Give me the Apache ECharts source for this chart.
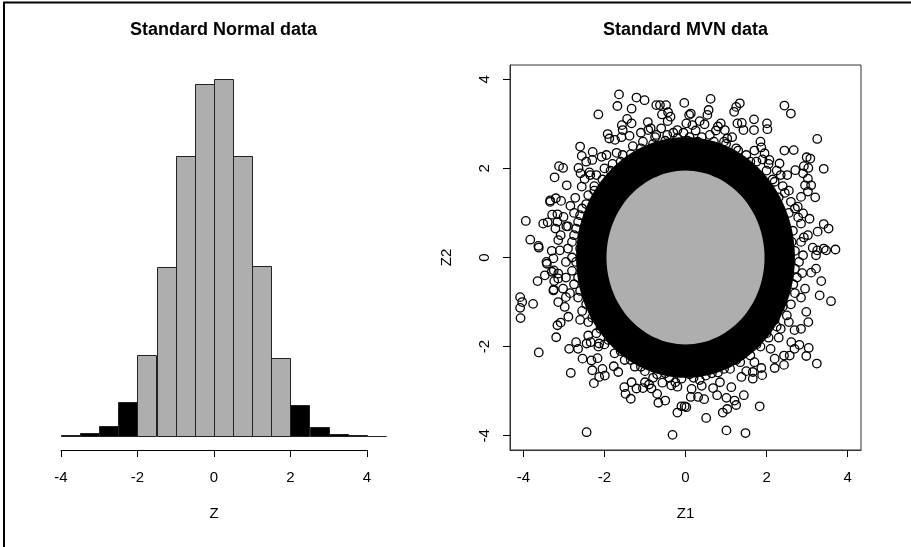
<!DOCTYPE html>
<html>
<head>
<meta charset="utf-8">
<script src="https://cdn.jsdelivr.net/npm/echarts@6/dist/echarts.min.js"></script>
<style>
  html, body { margin: 0; padding: 0; background: #fff; }
  #chart { width: 911px; height: 547px; }
</style>
</head>
<body>
<div id="chart"></div>
<script>
// histogram of Z: bin edges (width 0.5) and counts
const breaks = [-4, -3.5, -3, -2.5, -2, -1.5, -1, -0.5, 0, 0.5, 1, 1.5, 2, 2.5, 3, 3.5, 4, 4.5];
const counts = [2, 13, 55, 180, 432, 905, 1503, 1892, 1915, 1503, 914, 417, 165, 47, 7, 2, 1];
const tickLabels = [-4, -2, 0, 2, 4];

// MVN panel: inner grey disc / dense black band radii, then the visible circles
const innerRadius = 1.95;
const bandRadius = 2.7;
const outerPoints = [
  [-1.64, 3.66], [-1.68, 3.40], [-1.21, 3.59], [-1.01, 3.53], [-1.33, 3.34], [-2.15, 3.21],
  [-0.72, 3.42], [-0.63, 3.42], [-0.48, 3.42], [-0.03, 3.47], [-0.43, 3.26], [-0.58, 3.21],
  [-1.44, 3.11], [-1.33, 3.01], [-1.57, 2.97], [-1.55, 2.86], [-0.93, 3.04], [-0.86, 2.90],
  [-0.37, 3.16], [-0.44, 3.06], [-1.92, 2.77], [-1.88, 2.67], [-2.60, 2.49], [-2.56, 2.28],
  [-2.29, 2.37], [-2.45, 2.15], [-2.64, 2.01], [-3.12, 2.05], [-3.02, 2.01], [-3.23, 1.80],
  [-2.93, 1.62], [-3.34, 1.28], [-3.20, 1.33], [-3.07, 1.27], [-2.72, 1.34], [-3.94, 0.82],
  [-3.51, 0.76], [-3.40, 0.79], [-3.29, 0.96], [-3.16, 0.97], [-3.01, 0.91], [-2.94, 0.70],
  [-3.21, 0.65], [-3.83, 0.40], [-3.63, 0.26], [-3.14, 0.39], [-3.08, 0.50], [-2.84, 1.16],
  [-2.56, 1.59], [-2.49, 1.76], [-2.59, 1.89], [-2.37, 1.91], [-2.30, 2.19], [-2.07, 2.26],
  [-1.74, 2.64], [-1.58, 2.70], [-1.38, 2.73], [-1.10, 2.80], [-0.92, 2.86], [-0.72, 2.75],
  [-0.20, 2.86], [0.02, 3.01], [0.09, 3.20],
  [0.62, 3.56], [1.34, 3.46], [1.25, 3.38], [1.20, 3.27], [2.44, 3.41], [2.60, 3.23],
  [0.57, 3.31], [0.54, 3.20], [0.13, 3.23], [0.35, 3.06], [0.47, 2.99], [0.17, 2.97],
  [1.69, 3.10], [1.69, 2.86], [1.39, 3.02], [1.28, 3.01], [1.43, 2.86], [2.01, 3.01],
  [2.02, 2.88], [3.25, 2.66], [1.85, 2.60], [1.70, 2.40], [2.44, 2.40], [2.67, 2.41],
  [2.99, 2.25], [3.08, 2.22], [2.92, 2.05], [3.03, 2.01], [3.41, 1.99], [2.71, 1.96],
  [2.32, 2.11], [2.07, 2.19], [1.95, 2.34], [1.87, 2.47], [2.51, 1.85], [2.90, 1.89],
  [3.02, 1.77], [2.95, 1.62], [3.10, 1.62], [3.20, 1.35], [2.85, 1.36], [3.02, 1.48],
  [3.06, 0.87], [2.90, 0.99], [3.41, 0.75], [3.53, 0.65], [3.26, 0.58], [3.02, 0.50],
  [3.14, 0.22], [3.41, 0.20], [3.70, 0.18], [2.85, 0.76], [2.77, 1.14], [0.97, 2.86],
  [1.03, 2.67], [0.80, 2.94], [0.87, 3.01],
  [-3.62, 0.22], [-3.30, 0.15], [-3.10, 0.16], [-3.42, -0.14], [-3.26, -0.02], [-3.47, -0.40],
  [-3.30, -0.32], [-3.65, -0.53], [-3.24, -0.53], [-3.14, -0.47], [-4.08, -0.89], [-4.03, -1.00],
  [-4.08, -1.13], [-4.07, -1.36], [-3.76, -1.04], [-3.25, -0.72], [-3.14, -1.00], [-2.98, -1.11],
  [-2.95, -0.89], [-3.02, -0.70], [-2.89, -1.33], [-3.08, -1.46], [-3.16, -1.52], [-3.19, -1.79],
  [-3.62, -2.13], [-2.87, -2.05], [-2.65, -2.05], [-2.54, -2.27], [-2.83, -2.59], [-2.70, -1.90],
  [-2.44, -1.93], [-2.34, -1.90], [-2.13, -1.93], [-2.32, -2.31], [-2.17, -2.26], [-2.30, -2.53],
  [-2.05, -2.50], [-1.99, -2.65], [-2.13, -2.68], [-2.26, -2.82], [-2.44, -3.92], [-1.77, -2.44],
  [-1.66, -2.57], [-1.51, -2.91], [-1.35, -3.17], [-1.48, -3.06], [-1.21, -2.94], [-1.05, -2.93],
  [-0.84, -2.94], [-0.70, -3.06], [-0.67, -3.26], [-0.50, -3.21], [-0.57, -2.81], [-0.20, -3.48],
  [-0.10, -3.34], [-0.02, -3.34], [-0.32, -3.98], [-1.33, -2.80], [-1.00, -2.80], [-0.35, -2.87],
  [3.25, 0.16], [3.47, 0.16], [3.22, 0.05], [3.22, -0.25], [3.10, -0.34], [3.35, -0.53],
  [3.31, -0.85], [3.59, -0.98], [2.98, -1.22], [3.03, -1.45], [2.85, -1.60], [2.69, -1.63],
  [2.81, -1.96], [3.04, -2.03], [2.98, -2.21], [3.24, -2.38], [2.61, -1.90], [2.43, -2.41],
  [2.43, -2.20], [2.20, -2.48], [1.89, -2.64], [1.66, -2.72], [1.66, -2.57], [1.44, -3.09],
  [1.83, -3.34], [1.25, -3.31], [1.03, -3.40], [0.92, -3.48], [1.21, -3.21], [1.01, -3.15],
  [0.78, -3.09], [0.51, -3.60], [0.46, -3.18], [0.31, -3.13], [0.13, -3.13], [0.02, -3.36],
  [1.01, -3.88], [1.48, -3.94], [0.68, -2.93], [1.13, -2.91], [1.38, -2.68], [1.87, -2.48],
  [2.20, -2.27], [2.57, -2.20], [2.69, -2.05],
  [-3.43, -0.10], [-3.25, -0.29], [-3.26, -0.74], [-3.14, -0.36], [-3.34, 1.25], [-3.16, 0.80]
];
const ringPoints = [
  [2.70, 0.15], [2.80, -0.10], [2.75, -0.45], [2.85, 0.35], [2.65, 0.60], [2.70, -0.80],
  [2.60, -1.05], [2.55, 1.00], [2.60, 1.25], [2.45, 1.45], [2.50, -1.30], [2.35, -1.60],
  [2.20, 1.70], [2.00, 1.95], [1.75, 2.15], [1.50, 2.30], [1.25, 2.45], [1.00, 2.55],
  [0.70, 2.60], [0.40, 2.70], [2.35, 1.85], [1.90, 2.20],
  [0.10, 2.70], [-0.20, 2.68], [-0.50, 2.62], [-0.80, 2.55], [-1.10, 2.45], [-1.35, 2.32],
  [-0.30, 2.80], [0.25, 2.85],
  [-1.60, 2.15], [-1.85, 1.95], [-2.05, 1.75], [-2.25, 1.50], [-1.70, 2.35], [-2.20, 1.85],
  [-2.45, 1.20], [-2.60, 0.95], [-2.70, 0.65], [-2.80, 0.35], [-2.80, 0.00], [-2.80, -0.30],
  [-2.75, -0.60], [-2.65, -0.90], [-2.90, 0.20], [-2.95, -0.45],
  [-2.55, -1.20], [-2.40, -1.45], [-2.20, -1.70], [-2.00, -1.95], [-1.75, -2.15], [-1.50, -2.30],
  [-1.25, -2.45],
  [-1.00, -2.55], [-0.70, -2.62], [-0.40, -2.70], [-0.10, -2.72], [0.20, -2.70], [0.50, -2.65],
  [0.80, -2.58], [-0.20, -2.90], [0.40, -2.88],
  [1.10, -2.50], [1.35, -2.35], [1.60, -2.20], [1.85, -2.00], [2.05, -1.80], [2.25, -1.55],
  [1.50, -2.55], [2.10, -2.05],
  [2.62, 0.35], [2.70, -0.25], [2.90, 0.05], [2.95, -0.70], [2.85, -0.90], [2.78, 0.90],
  [2.92, 0.45], [2.66, -0.60], [2.88, -0.35], [2.70, 1.10],
  [2.40, 1.60], [2.25, 1.95], [2.05, 2.10], [2.55, 1.50], [2.15, 1.75], [2.30, 1.35],
  [1.60, 2.15], [1.30, 2.40], [0.95, 2.60], [0.60, 2.75], [0.30, 2.60], [-0.05, 2.80],
  [-0.45, 2.75], [-0.75, 2.70], [-1.05, 2.60], [-1.30, 2.50], [1.15, 2.70], [0.05, 2.62],
  [-0.60, 2.90], [0.75, 2.85],
  [-1.55, 2.30], [-1.80, 2.10], [-2.00, 2.00], [-2.25, 1.60], [-2.40, 1.40], [-1.95, 2.30],
  [-2.35, 1.85],
  [-2.55, 1.10], [-2.65, 0.80], [-2.75, 0.50], [-2.60, 0.20], [-2.70, -0.10], [-2.65, -0.45],
  [-2.60, -0.75], [-2.90, 0.70], [-2.95, -0.10], [-2.85, -0.80], [-2.75, 1.00],
  [-2.45, -1.05], [-2.30, -1.35], [-2.10, -1.60], [-1.90, -1.85], [-2.60, -1.40], [-2.40, -1.75],
  [-2.15, -2.00],
  [-1.60, -2.10], [-1.35, -2.30], [-1.10, -2.45], [-0.80, -2.70], [-0.50, -2.60], [-0.25, -2.80],
  [0.10, -2.62], [0.35, -2.75], [0.65, -2.60], [0.95, -2.50], [-0.90, -2.85], [0.15, -2.95],
  [0.85, -2.80],
  [1.25, -2.30], [1.50, -2.10], [1.75, -1.95], [2.00, -1.70], [2.20, -1.40], [2.40, -1.10],
  [1.70, -2.35], [2.30, -1.80], [2.55, -1.45]
];

const font = 'Liberation Sans, Arial, Helvetica, sans-serif';
const grey = '#aeaeae';

const bins = counts.map((c, i) => [breaks[i], breaks[i + 1], c]);
const yTop = Math.max(...counts);

// polygon outline of a data-space circle of radius r around (0,0)
function discShape(api, r) {
  const pts = [];
  for (let a = 0; a < 360; a += 3) {
    const t = a * Math.PI / 180;
    pts.push(api.coord([r * Math.cos(t), r * Math.sin(t)]));
  }
  return pts;
}

const chart = echarts.init(document.getElementById('chart'), null, { renderer: 'canvas' });

const option = {
  backgroundColor: '#fff',
  animation: false,
  textStyle: { fontFamily: font, color: '#000' },
  graphic: [
    { type: 'line', shape: { x1: 4, y1: 2, x2: 4, y2: 547 }, style: { stroke: '#000', lineWidth: 2 } },
    { type: 'line', shape: { x1: 3, y1: 2.5, x2: 911, y2: 2.5 }, style: { stroke: '#000', lineWidth: 2 } },
    { type: 'text', x: 223.5, y: 30, style: { text: 'Standard Normal data', font: 'bold 18px ' + font, fill: '#000', textAlign: 'center', textVerticalAlign: 'middle' } },
    { type: 'text', x: 685.5, y: 30, style: { text: 'Standard MVN data', font: 'bold 18px ' + font, fill: '#000', textAlign: 'center', textVerticalAlign: 'middle' } }
  ],
  grid: [
    { left: 48, top: 65, width: 351, height: 385 },
    { left: 61, top: 440, width: 306, height: 10 },
    { left: 510, top: 65, width: 351, height: 385, show: true, borderColor: '#333', borderWidth: 1, backgroundColor: 'transparent' }
  ],
  xAxis: [
    { gridIndex: 0, type: 'value', min: -4.34, max: 4.84, show: false },
    {
      gridIndex: 1, type: 'value', min: -4, max: 4, interval: 2, position: 'bottom',
      axisLine: { lineStyle: { color: '#000', width: 1 } },
      axisTick: { length: 7, lineStyle: { color: '#000' } },
      axisLabel: { margin: 20, fontSize: 15, color: '#000', fontFamily: font },
      splitLine: { show: false },
      name: 'Z', nameLocation: 'middle', nameGap: 56,
      nameTextStyle: { fontSize: 15, color: '#000', fontFamily: font }
    },
    {
      gridIndex: 2, type: 'value', min: -4.33, max: 4.33, position: 'bottom',
      axisLine: { onZero: false, lineStyle: { color: '#333', width: 1 } },
      axisTick: { length: 7, customValues: tickLabels, lineStyle: { color: '#000' } },
      axisLabel: { margin: 20, fontSize: 15, color: '#000', fontFamily: font, customValues: tickLabels },
      splitLine: { show: false },
      name: 'Z1', nameLocation: 'middle', nameGap: 56,
      nameTextStyle: { fontSize: 15, color: '#000', fontFamily: font }
    }
  ],
  yAxis: [
    { gridIndex: 0, type: 'value', min: -0.04 * yTop, max: 1.04 * yTop, show: false },
    { gridIndex: 1, type: 'value', min: 0, max: 1, show: false },
    {
      gridIndex: 2, type: 'value', min: -4.32, max: 4.32, position: 'left',
      axisLine: { onZero: false, lineStyle: { color: '#333', width: 1 } },
      axisTick: { length: 7, customValues: tickLabels, lineStyle: { color: '#000' } },
      axisLabel: { margin: 18, fontSize: 15, color: '#000', fontFamily: font, rotate: 90, customValues: tickLabels },
      splitLine: { show: false },
      name: 'Z2', nameLocation: 'middle', nameGap: 56, nameRotate: 90,
      nameTextStyle: { fontSize: 15, color: '#000', fontFamily: font }
    }
  ],
  series: [
    {
      type: 'custom',
      xAxisIndex: 0, yAxisIndex: 0,
      data: bins,
      renderItem: (params, api) => {
        const x0 = api.value(0), x1 = api.value(1), c = api.value(2);
        const p0 = api.coord([x0, c]);
        const p1 = api.coord([x1, 0]);
        const tail = x1 <= -2 || x0 >= 2;
        return {
          type: 'rect',
          shape: { x: Math.round(p0[0]) + 0.5, y: Math.round(p0[1]) + 0.5, width: Math.round(p1[0] - p0[0]), height: Math.round(p1[1]) - Math.round(p0[1]) },
          style: { fill: tail ? '#000' : grey, stroke: '#222', lineWidth: 1 }
        };
      }
    },
    {
      type: 'custom',
      xAxisIndex: 2, yAxisIndex: 2,
      data: [[0, 0, bandRadius, innerRadius]],
      renderItem: (params, api) => ({
        type: 'group',
        children: [
          { type: 'polygon', shape: { points: discShape(api, api.value(2)) }, style: { fill: '#000' } },
          { type: 'polygon', shape: { points: discShape(api, api.value(3)) }, style: { fill: grey } }
        ]
      })
    },
    {
      type: 'scatter',
      xAxisIndex: 2, yAxisIndex: 2,
      data: ringPoints.concat(outerPoints),
      symbol: 'circle',
      symbolSize: 8.5,
      itemStyle: { color: 'rgba(0,0,0,0)', borderColor: '#000', borderWidth: 1.3, opacity: 1 }
    }
  ]
};

chart.setOption(option);
</script>
</body>
</html>
